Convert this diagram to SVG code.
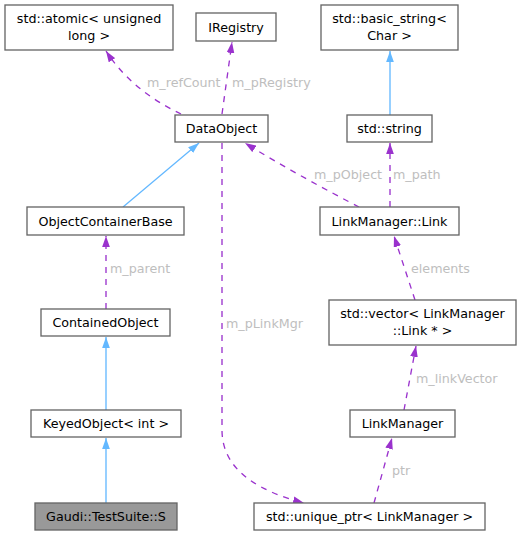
<svg xmlns="http://www.w3.org/2000/svg" width="526" height="536" viewBox="0 0 526 536">
<style>
.n rect{fill:#ffffff;stroke:#666666;stroke-width:1.33}
.n text{font-family:"DejaVu Sans",sans-serif;font-size:12.7px;fill:#000000;text-anchor:middle}
.d{fill:none;stroke:#9a32cd;stroke-width:1.33;stroke-dasharray:6,6}
.b{fill:none;stroke:#63b8ff;stroke-width:1.33}
.l{font-family:"DejaVu Sans",sans-serif;font-size:12.7px;fill:#bebebe}
</style>
<defs>
<marker id="ap" viewBox="0 0 10 7" refX="10" refY="3.5" markerWidth="11" markerHeight="8" markerUnits="userSpaceOnUse" orient="auto"><path d="M0,0 L10,3.5 L0,7 z" fill="#9a32cd"/></marker>
<marker id="ab" viewBox="0 0 10 7" refX="10" refY="3.5" markerWidth="11" markerHeight="8" markerUnits="userSpaceOnUse" orient="auto"><path d="M0,0 L10,3.5 L0,7 z" fill="#63b8ff"/></marker>
</defs>
<rect width="526" height="536" fill="#ffffff"/>
<g id="edges">
<path class="d" marker-end="url(#ap)" d="M181,114 C160,104 128,85 106,51"/>
<path class="d" marker-end="url(#ap)" d="M222,114 L232,42"/>
<path class="b" marker-end="url(#ab)" d="M390,115 L390,51"/>
<path class="b" marker-end="url(#ab)" d="M123,207 L199,143"/>
<path class="d" marker-end="url(#ap)" d="M359,207 C330,192 280,165 245,143"/>
<path class="d" marker-end="url(#ap)" d="M390,207 L390,143"/>
<path class="d" marker-end="url(#ap)" d="M106,309 L106,236"/>
<path class="d" marker-end="url(#ap)" d="M415,300 L394,236"/>
<path class="b" marker-end="url(#ab)" d="M106,410 L106,337"/>
<path class="b" marker-end="url(#ab)" d="M106,503 L106,438"/>
<path class="d" marker-end="url(#ap)" d="M404,410 L416,346"/>
<path class="d" marker-end="url(#ap)" d="M374,503 L392,438"/>
<path class="d" marker-end="url(#ap)" d="M222,143 L222,430 C222,472 262,492 304,503"/>
<text class="l" x="147" y="86.5">m_refCount</text>
<text class="l" x="232" y="86.5">m_pRegistry</text>
<text class="l" x="314" y="178.5">m_pObject</text>
<text class="l" x="393" y="178.5">m_path</text>
<text class="l" x="110" y="272.5">m_parent</text>
<text class="l" x="411" y="272.5">elements</text>
<text class="l" x="226" y="327.5">m_pLinkMgr</text>
<text class="l" x="416" y="382.5">m_linkVector</text>
<text class="l" x="392" y="474.5">ptr</text>
</g>
<g id="atomic" class="n"><rect x="5" y="5" width="168" height="45"/><text x="89" y="22.5">std::atomic&lt; unsigned</text><text x="89" y="39.5">long &gt;</text></g>
<g id="IRegistry" class="n"><rect x="196" y="13" width="80" height="28"/><text x="236" y="31.5">IRegistry</text></g>
<g id="basic_string" class="n"><rect x="321" y="5" width="137" height="45"/><text x="389.5" y="22.5">std::basic_string&lt;</text><text x="389.5" y="39.5">Char &gt;</text></g>
<g id="DataObject" class="n"><rect x="175" y="115" width="93" height="27"/><text x="221.5" y="133">DataObject</text></g>
<g id="string" class="n"><rect x="347" y="115" width="85" height="27"/><text x="389.5" y="133">std::string</text></g>
<g id="ObjectContainerBase" class="n"><rect x="27" y="207" width="157" height="28"/><text x="105.5" y="225.5">ObjectContainerBase</text></g>
<g id="Link" class="n"><rect x="320" y="207" width="139" height="28"/><text x="389.5" y="225.5">LinkManager::Link</text></g>
<g id="ContainedObject" class="n"><rect x="41" y="309" width="129" height="27"/><text x="105.5" y="327">ContainedObject</text></g>
<g id="vector" class="n"><rect x="329" y="300" width="187" height="45"/><text x="422.5" y="318">std::vector&lt; LinkManager</text><text x="422.5" y="335">::Link * &gt;</text></g>
<g id="KeyedObject" class="n"><rect x="31" y="410" width="150" height="27"/><text x="106" y="428">KeyedObject&lt; int &gt;</text></g>
<g id="LinkManager" class="n"><rect x="350" y="410" width="105" height="27"/><text x="402.5" y="428">LinkManager</text></g>
<g id="S" class="n"><rect x="35" y="503" width="142" height="27" style="fill:#999999"/><text x="106" y="521">Gaudi::TestSuite::S</text></g>
<g id="unique_ptr" class="n"><rect x="254" y="503" width="231" height="27"/><text x="369.5" y="521">std::unique_ptr&lt; LinkManager &gt;</text></g>
</svg>
